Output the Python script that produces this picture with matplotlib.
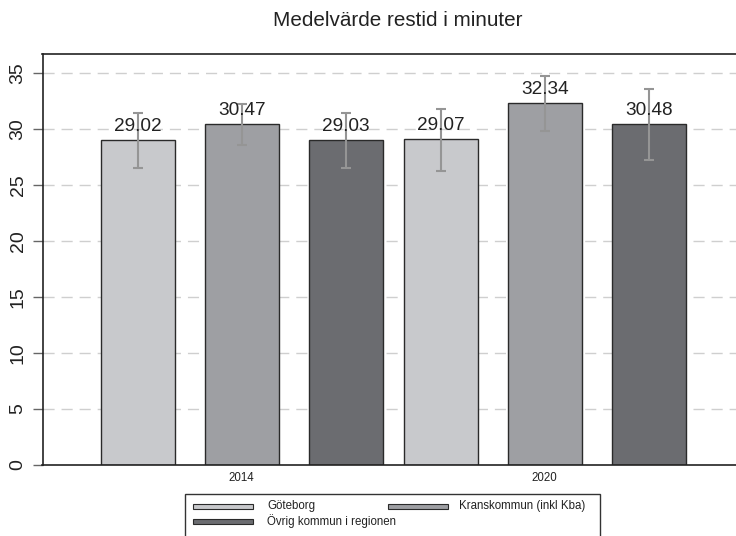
import matplotlib
matplotlib.use("Agg")
import matplotlib.pyplot as plt
from matplotlib.patches import Rectangle
import numpy as np

plt.rcParams['font.family'] = ['Liberation Sans', 'DejaVu Sans']

# Data
years = ["2014", "2020"]
series = ["Göteborg", "Kranskommun (inkl Kba)", "Övrig kommun i regionen"]
means = {
    "Göteborg": [29.02, 29.07],
    "Kranskommun (inkl Kba)": [30.47, 32.34],
    "Övrig kommun i regionen": [29.03, 30.48],
}
ci_low = {
    "Göteborg": [26.52, 26.28],
    "Kranskommun (inkl Kba)": [28.57, 29.82],
    "Övrig kommun i regionen": [26.52, 27.26],
}
ci_high = {
    "Göteborg": [31.46, 31.76],
    "Kranskommun (inkl Kba)": [32.26, 34.76],
    "Övrig kommun i regionen": [31.46, 33.57],
}
colors = ["#c8c9cc", "#9e9fa3", "#6b6c70"]
yticks = [0, 5, 10, 15, 20, 25, 30, 35]

W, H = 736, 536
fig = plt.figure(figsize=(W / 100, H / 100), dpi=100)
ax = fig.add_axes([42.5 / W, 1 - 465 / H, (744 - 42.5) / W, (465 - 54) / H])

group_step = 2.91
bar_w = 0.71
for j, name in enumerate(series):
    xs = np.arange(len(years)) * group_step + j
    vals = np.array(means[name])
    lo = vals - np.array(ci_low[name])
    hi = np.array(ci_high[name]) - vals
    ax.bar(xs, vals, width=bar_w, color=colors[j], edgecolor="#2a2a2a",
           linewidth=1.0, zorder=2)
    ax.errorbar(xs, vals, yerr=[lo, hi], fmt="none", ecolor="#959595",
                elinewidth=1.5, capsize=3.8, capthick=1.5, zorder=3)
    for x, v in zip(xs, vals):
        ax.text(x, v + 0.45, f"{v:.2f}", ha="center", va="bottom",
                fontsize=13.7, color="#222222", zorder=4)

ax.set_xlim(-0.913, 2 * 1 + group_step + 0.913)
ax.set_ylim(0, 36.7)
ax.set_yticks(yticks)
ax.set_yticklabels([str(t) for t in yticks], rotation=90, va="center")
ax.set_xticks(np.arange(len(years)) * group_step + 1)
ax.set_xticklabels(years)
ax.tick_params(axis="y", length=7, width=1, color="#666666", pad=4.5,
               labelsize=14, labelcolor="#222222")
ax.tick_params(axis="x", length=0, pad=5, labelsize=8.3, labelcolor="#222222")

for y in yticks[1:]:
    ax.axhline(y, color="#cfcfcf", linewidth=1.0, linestyle=(0, (8, 5)), zorder=1)

for side in ["left", "bottom", "top"]:
    ax.spines[side].set_color("#222222")
    ax.spines[side].set_linewidth(1.2)
ax.spines["right"].set_visible(False)

fig.text(398 / W, 1 - 20 / H, "Medelvärde restid i minuter", ha="center",
         va="center", fontsize=14.9, color="#222222")

# Legend box
def fx(px):
    return px / W

def fy(py):
    return 1 - py / H

fig.patches.append(Rectangle((fx(185), fy(545)), fx(600) - fx(185), fy(494) - fy(545),
                             transform=fig.transFigure, facecolor="white",
                             edgecolor="#333333", linewidth=1.0))
entries = [(0, 193, 267, 506.5), (1, 388, 459, 506.5), (2, 193, 267, 521.5)]
for j, px, tx, py in entries:
    fig.patches.append(Rectangle((fx(px), fy(py + 2.2)), fx(60), 4.4 / H,
                                 transform=fig.transFigure, facecolor=colors[j],
                                 edgecolor="#2a2a2a", linewidth=0.8))
    fig.text(fx(tx), fy(py), series[j], ha="left", va="center",
             fontsize=8.3, color="#222222")

fig.savefig("out.png", dpi=100)
